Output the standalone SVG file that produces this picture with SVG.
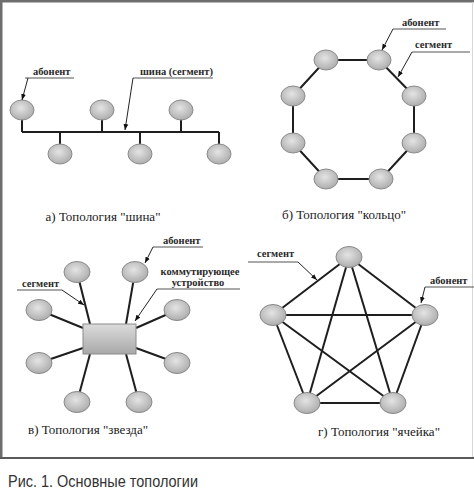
<svg xmlns="http://www.w3.org/2000/svg" width="474" height="492" viewBox="0 0 474 492">
<defs>
<radialGradient id="g" cx="0.45" cy="0.4" r="0.65">
<stop offset="0" stop-color="#e4e4e4"/>
<stop offset="1" stop-color="#a9a9a9"/>
</radialGradient>
<linearGradient id="rg" x1="0" y1="0" x2="0" y2="1">
<stop offset="0" stop-color="#dcdcdc"/>
<stop offset="1" stop-color="#a8a8a8"/>
</linearGradient>
<marker id="ar" viewBox="0 0 10 10" refX="10" refY="5" markerWidth="6" markerHeight="6" orient="auto" markerUnits="userSpaceOnUse">
<path d="M0,1 L10,5 L0,9 z" fill="#111"/>
</marker>
</defs>
<style>
.n{fill:url(#g);stroke:#8a8a8a;stroke-width:1}
.e{stroke:#1e1e1e;stroke-width:2;fill:none}
.ld{stroke:#222;stroke-width:1;fill:none}
.ul{stroke:#555;stroke-width:1.2}
.lb{font-family:'Liberation Serif','DejaVu Serif',serif;font-size:10.5px;font-weight:bold;fill:#2a2a2a}
.cp{font-family:'Liberation Serif','DejaVu Serif',serif;font-size:13px;fill:#1a1a1a;text-anchor:middle}
</style>
<rect x="0" y="0" width="474" height="492" fill="#fff"/>
<rect x="0" y="0" width="474" height="2.5" fill="#6e6e6e"/>
<rect x="0" y="0" width="2.5" height="459" fill="#6e6e6e"/>
<line x1="472.5" y1="2" x2="472.5" y2="457" stroke="#d8d8d8" stroke-width="1"/>
<rect x="0" y="457" width="474" height="2" fill="#5a5a5a"/>

<g id="connectors">
<line class="e" x1="22" y1="132" x2="219" y2="132" stroke-width="2.5"/>
<line class="e" x1="22" y1="118" x2="22" y2="132"/>
<line class="e" x1="102" y1="118" x2="102" y2="132"/>
<line class="e" x1="181" y1="118" x2="181" y2="132"/>
<line class="e" x1="60" y1="132" x2="60" y2="145"/>
<line class="e" x1="140" y1="132" x2="140" y2="145"/>
<line class="e" x1="219" y1="132" x2="219" y2="145"/>
<polygon class="e" points="326,60 379,60 414,96 414,143 381,179 326,179 293,143 293,96"/>
<line class="e" x1="77" y1="272" x2="90" y2="324"/>
<line class="e" x1="135" y1="272" x2="126" y2="324"/>
<line class="e" x1="39" y1="310" x2="83" y2="328"/>
<line class="e" x1="177" y1="310" x2="136" y2="328"/>
<line class="e" x1="39" y1="363" x2="83" y2="348"/>
<line class="e" x1="177" y1="363" x2="136" y2="348"/>
<line class="e" x1="77" y1="402" x2="90" y2="354"/>
<line class="e" x1="139" y1="402" x2="126" y2="354"/>
<line class="e" x1="349" y1="257" x2="273" y2="315"/>
<line class="e" x1="349" y1="257" x2="425" y2="315"/>
<line class="e" x1="349" y1="257" x2="307" y2="403"/>
<line class="e" x1="349" y1="257" x2="393" y2="403"/>
<line class="e" x1="273" y1="315" x2="425" y2="315"/>
<line class="e" x1="273" y1="315" x2="307" y2="403"/>
<line class="e" x1="273" y1="315" x2="393" y2="403"/>
<line class="e" x1="425" y1="315" x2="307" y2="403"/>
<line class="e" x1="425" y1="315" x2="393" y2="403"/>
<line class="e" x1="307" y1="403" x2="393" y2="403"/>
</g>

<g id="bus-n1"><ellipse class="n" cx="22" cy="110" rx="12" ry="10"/></g>
<g id="bus-n2"><ellipse class="n" cx="102" cy="110" rx="12" ry="10"/></g>
<g id="bus-n3"><ellipse class="n" cx="181" cy="110" rx="12" ry="10"/></g>
<g id="bus-n4"><ellipse class="n" cx="60" cy="154" rx="12" ry="10"/></g>
<g id="bus-n5"><ellipse class="n" cx="140" cy="154" rx="12" ry="10"/></g>
<g id="bus-n6"><ellipse class="n" cx="219" cy="154" rx="12" ry="10"/></g>

<g id="ring-n1"><ellipse class="n" cx="326" cy="60" rx="12" ry="10"/></g>
<g id="ring-n2"><ellipse class="n" cx="379" cy="60" rx="12" ry="10"/></g>
<g id="ring-n3"><ellipse class="n" cx="414" cy="96" rx="12" ry="10"/></g>
<g id="ring-n4"><ellipse class="n" cx="414" cy="143" rx="12" ry="10"/></g>
<g id="ring-n5"><ellipse class="n" cx="381" cy="179" rx="12" ry="10"/></g>
<g id="ring-n6"><ellipse class="n" cx="326" cy="179" rx="12" ry="10"/></g>
<g id="ring-n7"><ellipse class="n" cx="293" cy="143" rx="12" ry="10"/></g>
<g id="ring-n8"><ellipse class="n" cx="293" cy="96" rx="12" ry="10"/></g>

<g id="star-hub"><rect x="83" y="324" width="53" height="30" fill="url(#rg)" stroke="#8a8a8a" stroke-width="1"/></g>
<g id="star-n1"><ellipse class="n" cx="77" cy="272" rx="13" ry="10.5"/></g>
<g id="star-n2"><ellipse class="n" cx="135" cy="272" rx="13" ry="10.5"/></g>
<g id="star-n3"><ellipse class="n" cx="39" cy="310" rx="13" ry="10.5"/></g>
<g id="star-n4"><ellipse class="n" cx="177" cy="310" rx="13" ry="10.5"/></g>
<g id="star-n5"><ellipse class="n" cx="39" cy="363" rx="13" ry="10.5"/></g>
<g id="star-n6"><ellipse class="n" cx="177" cy="363" rx="13" ry="10.5"/></g>
<g id="star-n7"><ellipse class="n" cx="77" cy="402" rx="13" ry="10.5"/></g>
<g id="star-n8"><ellipse class="n" cx="139" cy="402" rx="13" ry="10.5"/></g>

<g id="mesh-n1"><ellipse class="n" cx="349" cy="257" rx="13" ry="10.5"/></g>
<g id="mesh-n2"><ellipse class="n" cx="273" cy="315" rx="13" ry="10.5"/></g>
<g id="mesh-n3"><ellipse class="n" cx="425" cy="315" rx="13" ry="10.5"/></g>
<g id="mesh-n4"><ellipse class="n" cx="307" cy="403" rx="13" ry="10.5"/></g>
<g id="mesh-n5"><ellipse class="n" cx="393" cy="403" rx="13" ry="10.5"/></g>

<g id="callouts">
<line class="ul" x1="25" y1="78" x2="74" y2="78"/>
<line class="ld" x1="28" y1="78" x2="22" y2="100" marker-end="url(#ar)"/>
<text class="lb" x="33" y="75">абонент</text>
<line class="ul" x1="133" y1="78" x2="213" y2="78"/>
<line class="ld" x1="133" y1="78" x2="125" y2="130" marker-end="url(#ar)"/>
<text class="lb" x="140" y="75">шина (сегмент)</text>

<line class="ul" x1="393" y1="29" x2="446" y2="29"/>
<line class="ld" x1="393" y1="29" x2="382" y2="50" marker-end="url(#ar)"/>
<text class="lb" x="402" y="26">абонент</text>
<line class="ul" x1="412" y1="52" x2="470" y2="52"/>
<line class="ld" x1="412" y1="52" x2="398" y2="77" marker-end="url(#ar)"/>
<text class="lb" x="415" y="48">сегмент</text>

<line class="ul" x1="17" y1="290" x2="62" y2="290"/>
<line class="ld" x1="62" y1="290" x2="84" y2="305" marker-end="url(#ar)"/>
<text class="lb" x="22" y="287">сегмент</text>
<line class="ul" x1="153" y1="247" x2="203" y2="247"/>
<line class="ld" x1="153" y1="247" x2="145" y2="263" marker-end="url(#ar)"/>
<text class="lb" x="163" y="244">абонент</text>
<line class="ul" x1="157" y1="289" x2="240" y2="289"/>
<line class="ld" x1="157" y1="289" x2="135" y2="321" marker-end="url(#ar)"/>
<text class="lb" x="200" y="275" text-anchor="middle">коммутирующее</text>
<text class="lb" x="198" y="286" text-anchor="middle">устройство</text>

<line class="ul" x1="248" y1="262" x2="298" y2="262"/>
<line class="ld" x1="298" y1="262" x2="317" y2="280" marker-end="url(#ar)"/>
<text class="lb" x="257" y="257">сегмент</text>
<line class="ul" x1="425" y1="287" x2="474" y2="287"/>
<line class="ld" x1="425" y1="287" x2="421" y2="303" marker-end="url(#ar)"/>
<text class="lb" x="430" y="284">абонент</text>
</g>

<text class="cp" x="103" y="221">а) Топология "шина"</text>
<text class="cp" x="344" y="219">б) Топология "кольцо"</text>
<text class="cp" x="88" y="434">в) Топология "звезда"</text>
<text class="cp" x="379" y="436">г) Топология "ячейка"</text>

<text x="8" y="487" font-family="'Liberation Sans Narrow','Liberation Sans',sans-serif" font-size="16" fill="#333" textLength="190" lengthAdjust="spacingAndGlyphs">Рис. 1. Основные топологии</text>
</svg>
